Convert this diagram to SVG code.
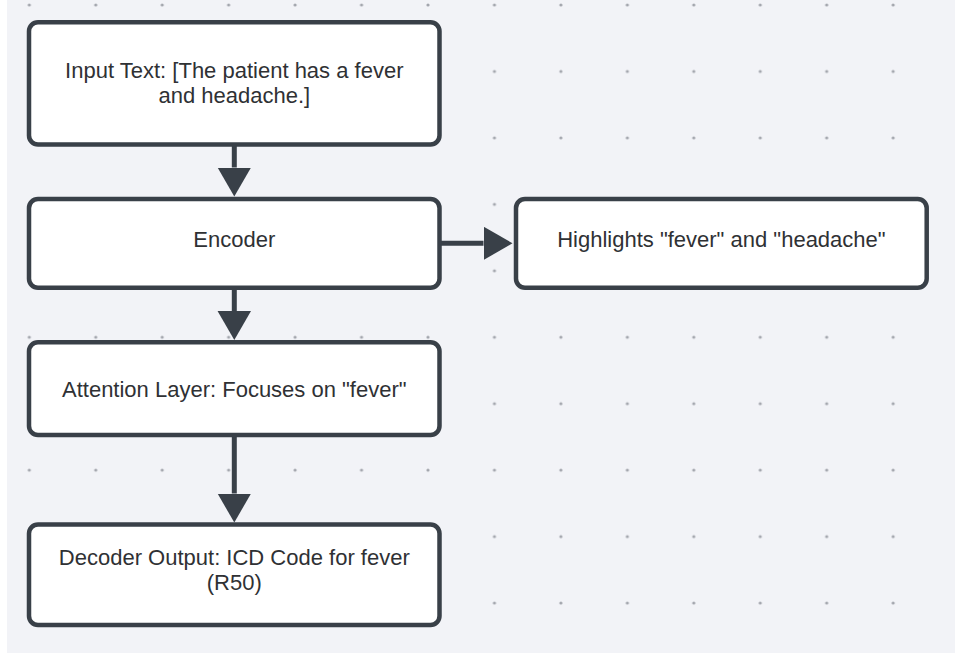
<svg xmlns="http://www.w3.org/2000/svg" width="955" height="654" viewBox="0 0 955 654">
<style>
.box{fill:#ffffff;stroke:#394048;stroke-width:4.5}
.lbl{font-family:"Liberation Sans",Arial,sans-serif;font-size:22px;fill:#2f3134;text-anchor:middle}
.conn{stroke:#394048;stroke-width:5;fill:none}
</style>
<defs>
<pattern id="dots" x="29.3" y="5" width="66.45" height="66.45" patternUnits="userSpaceOnUse">
<circle cx="0" cy="0" r="1.6" fill="#a3a6ad"/>
<circle cx="66.45" cy="0" r="1.6" fill="#a3a6ad"/>
<circle cx="0" cy="66.45" r="1.6" fill="#a3a6ad"/>
<circle cx="66.45" cy="66.45" r="1.6" fill="#a3a6ad"/>
</pattern>
<marker id="arr" markerUnits="userSpaceOnUse" markerWidth="29" markerHeight="34" refX="0" refY="16.75" orient="auto">
<path d="M0,0 L29,16.75 L0,33.5 Z" fill="#394048"/>
</marker>
</defs>
<rect x="0" y="0" width="955" height="654" fill="#ffffff"/>
<rect x="7" y="0" width="948" height="653" fill="#f2f3f7"/>
<rect x="7" y="0" width="948" height="653" fill="url(#dots)"/>
<g id="connectors">
<line class="conn" x1="234.3" y1="146" x2="234.3" y2="167.5" marker-end="url(#arr)"/>
<line class="conn" x1="234.3" y1="289" x2="234.3" y2="311" marker-end="url(#arr)"/>
<line class="conn" x1="234.3" y1="436" x2="234.3" y2="493.5" marker-end="url(#arr)"/>
<line class="conn" x1="441" y1="243.3" x2="483.5" y2="243.3" marker-end="url(#arr)"/>
</g>
<g id="input">
<rect class="box" x="29" y="22.3" width="410.5" height="122.2" rx="9"/>
<text class="lbl" x="234.3" y="77.5">Input Text: [The patient has a fever</text>
<text class="lbl" x="234.3" y="102.5">and headache.]</text>
</g>
<g id="encoder">
<rect class="box" x="29" y="199" width="410.5" height="88.8" rx="9"/>
<text class="lbl" x="234.3" y="246.5">Encoder</text>
</g>
<g id="highlights">
<rect class="box" x="516" y="199" width="410.7" height="88.8" rx="9"/>
<text class="lbl" x="721.4" y="246.5">Highlights "fever" and "headache"</text>
</g>
<g id="attention">
<rect class="box" x="29" y="342.3" width="410.5" height="92.8" rx="9"/>
<text class="lbl" x="234.3" y="396.5">Attention Layer: Focuses on "fever"</text>
</g>
<g id="decoder">
<rect class="box" x="29" y="524.5" width="410.5" height="100.6" rx="9"/>
<text class="lbl" x="234.3" y="565">Decoder Output: ICD Code for fever</text>
<text class="lbl" x="234.3" y="590">(R50)</text>
</g>
</svg>
